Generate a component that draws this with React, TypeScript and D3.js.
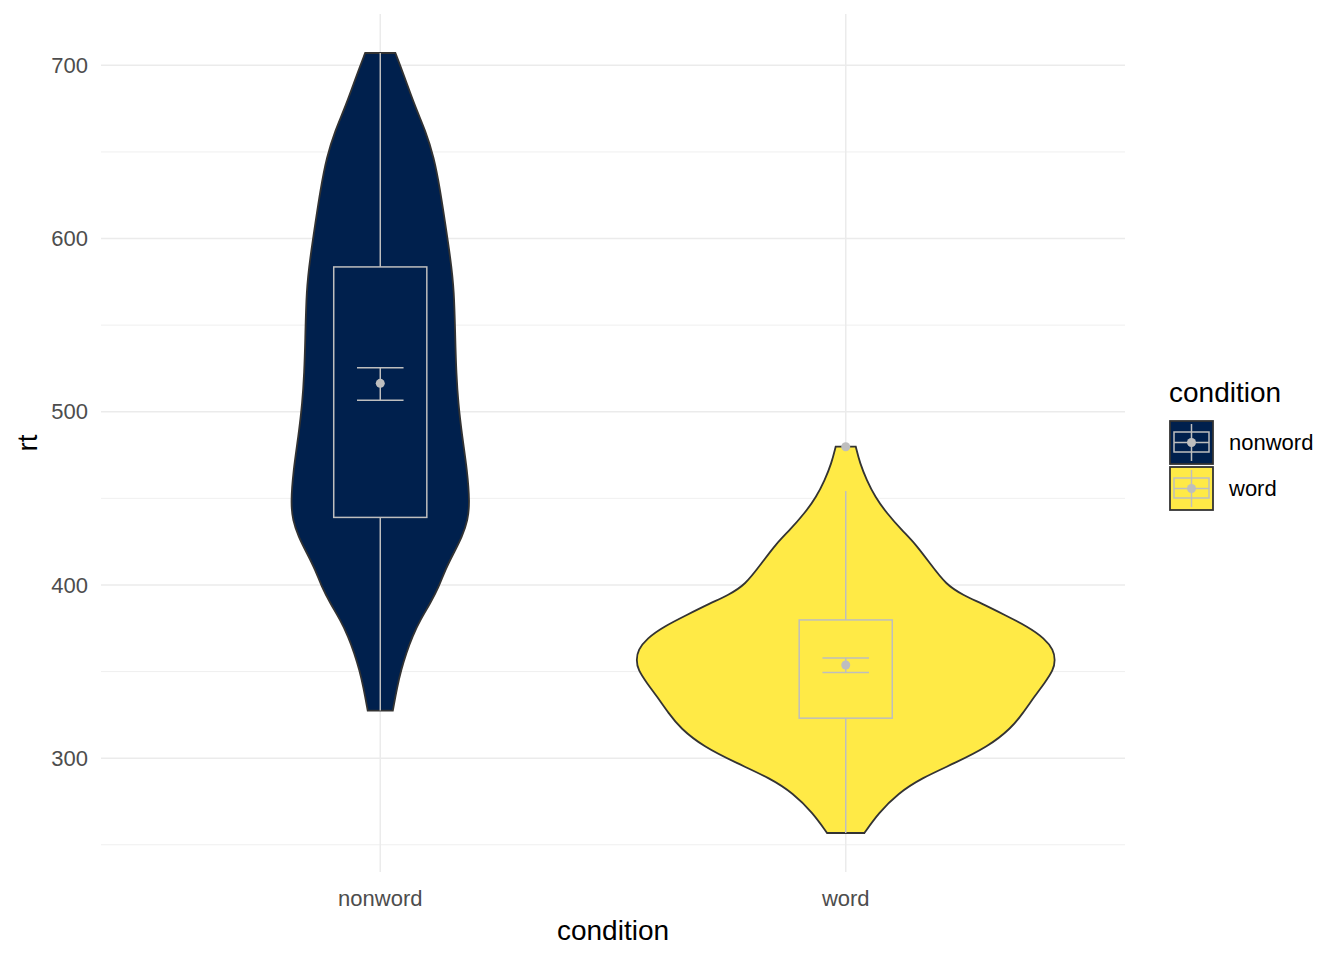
import * as d3 from "d3";

// categories and colours
const categories = ["nonword", "word"];
const fills = ["#00204D", "#FFEA46"];

// violin outlines: rt and relative density
const nonwordRt = [327.5, 341.3, 351.0, 360.6, 370.2, 379.8, 389.4, 399.0, 408.7, 418.5, 427.9, 437.5, 447.3, 466.3, 485.6, 505.0, 522.3, 541.3, 570.2, 589.4, 608.8, 627.9, 647.1, 662.5, 675.9, 695.2, 707.1];
const nonwordDensity = [0.06, 0.081, 0.1, 0.124, 0.153, 0.191, 0.239, 0.28, 0.31, 0.351, 0.391, 0.418, 0.427, 0.415, 0.391, 0.372, 0.363, 0.358, 0.353, 0.334, 0.31, 0.286, 0.256, 0.215, 0.167, 0.11, 0.072];
const wordRt = [256.8, 268.3, 279.8, 288.5, 297.1, 306.7, 317.3, 326.0, 335.6, 343.3, 351.0, 356.7, 362.5, 369.2, 375.9, 382.7, 389.4, 394.2, 400.0, 412.5, 424.1, 431.7, 441.4, 450.9, 460.6, 470.2, 479.8];
const wordDensity = [0.089, 0.156, 0.251, 0.362, 0.52, 0.68, 0.79, 0.846, 0.901, 0.949, 0.992, 1.0, 0.992, 0.949, 0.87, 0.759, 0.648, 0.56, 0.48, 0.402, 0.33, 0.267, 0.196, 0.14, 0.1, 0.068, 0.048];

// boxplot stats per category
const whiskerLow = [327.5, 256.8];
const boxLow = [439.0, 323.1];
const boxHigh = [583.6, 379.8];
const whiskerHigh = [707.1, 454.2];
const outliers = [[], [479.8]];

// mean +/- se
const means = [516.4, 353.8];
const seLow = [506.7, 349.4];
const seHigh = [525.4, 357.9];

const yTicks = [300, 400, 500, 600, 700];
const yMinor = [250, 350, 450, 550, 650];

const FONT = "Liberation Sans, Arial, sans-serif";
const BOX_GREY = "#BEBEBE";
const OUTLINE = "#333333";

export default function App() {
  const width = 1344;
  const height = 960;
  const panel = { left: 101, right: 1125, top: 14, bottom: 872 };

  const violins = [
    nonwordRt.map((rt, i) => ({ rt, d: nonwordDensity[i] })),
    wordRt.map((rt, i) => ({ rt, d: wordDensity[i] })),
  ];

  const allRt = [...nonwordRt, ...wordRt];
  const [lo, hi] = d3.extent(allRt) as [number, number];
  const pad = (hi - lo) * 0.05;

  const xScale = d3.scalePoint<string>().domain(categories).range([panel.left, panel.right]).padding(0.6);
  const step = xScale.step();
  const yScale = d3.scaleLinear().domain([lo - pad, hi + pad]).range([panel.bottom, panel.top]);
  const maxDensity = d3.max([...nonwordDensity, ...wordDensity]) as number;
  const wScale = d3.scaleLinear().domain([0, maxDensity]).range([0, step * 0.45]);

  const boxHalf = step * 0.1;
  const errHalf = step * 0.05;

  return (
    <svg width={width} height={height} style={{ position: "absolute", left: 0, top: 0 }}>
      <rect width={width} height={height} fill="white" />
      {/* grid */}
      {yMinor.map((v) => (
        <line key={"m" + v} x1={panel.left} x2={panel.right} y1={yScale(v)} y2={yScale(v)} stroke="#EBEBEB" strokeWidth={0.8} />
      ))}
      {yTicks.map((v) => (
        <line key={"M" + v} x1={panel.left} x2={panel.right} y1={yScale(v)} y2={yScale(v)} stroke="#EBEBEB" strokeWidth={1.5} />
      ))}
      {categories.map((c) => (
        <line key={"v" + c} x1={xScale(c)} x2={xScale(c)} y1={panel.top} y2={panel.bottom} stroke="#EBEBEB" strokeWidth={1.5} />
      ))}

      {/* violins */}
      {categories.map((c, i) => {
        const cx = xScale(c) as number;
        const area = d3
          .area<{ rt: number; d: number }>()
          .y((p) => yScale(p.rt))
          .x0((p) => cx - wScale(p.d))
          .x1((p) => cx + wScale(p.d))
          .curve(d3.curveBasis);
        return (
          <path key={"vio" + c} d={area(violins[i]) as string} fill={fills[i]} stroke={OUTLINE} strokeWidth={1.8} />
        );
      })}

      {/* boxplots */}
      {categories.map((c, i) => {
        const cx = xScale(c) as number;
        return (
          <g key={"box" + c} stroke={BOX_GREY} strokeWidth={1.5} fill="none">
            <line x1={cx} x2={cx} y1={yScale(whiskerHigh[i])} y2={yScale(boxHigh[i])} />
            <line x1={cx} x2={cx} y1={yScale(boxLow[i])} y2={yScale(whiskerLow[i])} />
            <rect x={cx - boxHalf} width={boxHalf * 2} y={yScale(boxHigh[i])} height={yScale(boxLow[i]) - yScale(boxHigh[i])} />
            {outliers[i].map((o) => (
              <circle key={o} cx={cx} cy={yScale(o)} r={4.5} fill={BOX_GREY} stroke="none" />
            ))}
            {/* mean and se */}
            <line x1={cx} x2={cx} y1={yScale(seHigh[i])} y2={yScale(seLow[i])} />
            <line x1={cx - errHalf} x2={cx + errHalf} y1={yScale(seHigh[i])} y2={yScale(seHigh[i])} />
            <line x1={cx - errHalf} x2={cx + errHalf} y1={yScale(seLow[i])} y2={yScale(seLow[i])} />
            <circle cx={cx} cy={yScale(means[i])} r={4.5} fill={BOX_GREY} stroke="none" />
          </g>
        );
      })}

      {/* axes */}
      {yTicks.map((v) => (
        <text key={"t" + v} x={88} y={yScale(v)} dy="0.35em" textAnchor="end" fontFamily={FONT} fontSize={22} fill="#4D4D4D">
          {v}
        </text>
      ))}
      {categories.map((c) => (
        <text key={"xt" + c} x={xScale(c)} y={906} textAnchor="middle" fontFamily={FONT} fontSize={22} fill="#4D4D4D">
          {c}
        </text>
      ))}
      <text x={(panel.left + panel.right) / 2} y={940} textAnchor="middle" fontFamily={FONT} fontSize={28} fill="black">
        condition
      </text>
      <text transform={`translate(37,${(panel.top + panel.bottom) / 2}) rotate(-90)`} textAnchor="middle" fontFamily={FONT} fontSize={28} fill="black">
        rt
      </text>

      {/* legend */}
      <text x={1169} y={402} fontFamily={FONT} fontSize={28} fill="black">
        condition
      </text>
      {categories.map((c, i) => {
        const kx = 1170;
        const ky = 421 + i * 46;
        const kcx = kx + 21.5;
        const kcy = ky + 21.5;
        return (
          <g key={"leg" + c}>
            <rect x={kx} y={ky} width={43} height={43} fill={fills[i]} stroke={OUTLINE} strokeWidth={1.8} />
            <g stroke={BOX_GREY} strokeWidth={1.5} fill="none">
              <line x1={kcx} x2={kcx} y1={ky + 3} y2={ky + 40} />
              <rect x={kx + 4} y={ky + 11} width={35} height={20} />
              <line x1={kx + 4} x2={kx + 39} y1={kcy} y2={kcy} />
            </g>
            <circle cx={kcx} cy={kcy} r={4.5} fill={BOX_GREY} />
            <text x={1229} y={kcy} dy="0.35em" fontFamily={FONT} fontSize={22} fill="black">
              {c}
            </text>
          </g>
        );
      })}
    </svg>
  );
}
